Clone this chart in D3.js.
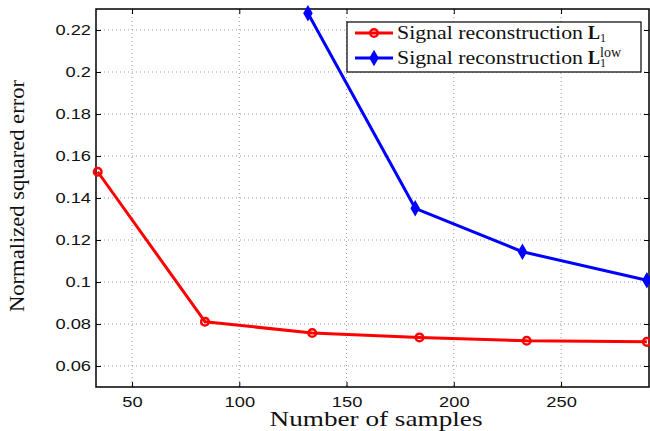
<!DOCTYPE html>
<html>
<head>
<meta charset="utf-8">
<script src="https://cdn.jsdelivr.net/npm/d3@7"></script>
<style>
  body { margin: 0; background: #fff; }
  .tick text { font-family: "Liberation Sans", Arial, sans-serif; font-size: 15.5px; fill: #111; }
  .axisLabel { font-family: "Liberation Serif", "DejaVu Serif", serif; font-size: 21px; fill: #111; }
  .legendText { font-family: "Liberation Serif", "DejaVu Serif", serif; font-size: 18px; fill: #111; }
</style>
</head>
<body>
<div id="chart"></div>
<script>
// data
const redX = [34, 84, 134, 184, 234, 290];
const redY = [0.1525, 0.0811, 0.0757, 0.0736, 0.0720, 0.0715];
const blueX = [132, 182, 232, 290];
const blueY = [0.228, 0.1351, 0.1144, 0.1008];
const xTicks = [50, 100, 150, 200, 250];
const yTicks = [0.06, 0.08, 0.1, 0.12, 0.14, 0.16, 0.18, 0.2, 0.22];

const width = 650, height = 431;
const margin = {top: 9, right: 1, bottom: 44, left: 96};
const w = width - margin.left - margin.right;
const h = height - margin.top - margin.bottom;

const svg = d3.select("#chart").append("svg")
    .attr("width", width)
    .attr("height", height);

const g = svg.append("g")
    .attr("transform", `translate(${margin.left},${margin.top})`);

const x = d3.scaleLinear().domain([33.2, 291]).range([0, w]);
const y = d3.scaleLinear().domain([0.05, 0.23]).range([h, 0]);

// grid
g.append("g").selectAll("line.vg").data(xTicks).join("line")
    .attr("x1", d => x(d)).attr("x2", d => x(d))
    .attr("y1", 0).attr("y2", h)
    .attr("stroke", "#999").attr("stroke-width", 1)
    .attr("stroke-dasharray", "1,3");
g.append("g").selectAll("line.hg").data(yTicks).join("line")
    .attr("x1", 0).attr("x2", w)
    .attr("y1", d => y(d)).attr("y2", d => y(d))
    .attr("stroke", "#999").attr("stroke-width", 1)
    .attr("stroke-dasharray", "1,3");

// axes, ticks pointing inward
const xAxis = g.append("g")
    .attr("transform", `translate(0,${h})`)
    .call(d3.axisBottom(x).tickValues(xTicks).tickSize(-5).tickPadding(9).tickFormat(d3.format("d")));
const yAxis = g.append("g")
    .call(d3.axisLeft(y).tickValues(yTicks).tickSize(-5).tickPadding(5).tickFormat(d => String(+d.toFixed(2))));
g.append("g")
    .call(d3.axisTop(x).tickValues(xTicks).tickSize(-5).tickFormat(""));
g.append("g")
    .attr("transform", `translate(${w},0)`)
    .call(d3.axisRight(y).tickValues(yTicks).tickSize(-5).tickFormat(""));
g.selectAll(".domain").remove();
g.selectAll(".tick line").attr("stroke", "#000");
// the reference digits are a bit wide, stretch them sideways
xAxis.selectAll("text").attr("transform", "scale(1.18,1)");
yAxis.selectAll("text").attr("transform", "scale(1.18,1)").attr("x", -5 / 1.18);

g.append("rect")
    .attr("width", w).attr("height", h)
    .attr("fill", "none").attr("stroke", "#000").attr("stroke-width", 1.5);

// clip lines to the plot
g.append("clipPath").attr("id", "clip")
    .append("rect").attr("x", -6).attr("y", -6).attr("width", w + 12).attr("height", h + 12);

const line = d3.line().x(d => x(d[0])).y(d => y(d[1]));
const redData = redX.map((v, i) => [v, redY[i]]);
const blueData = blueX.map((v, i) => [v, blueY[i]]);

const plot = g.append("g").attr("clip-path", "url(#clip)");

plot.append("path").datum(redData)
    .attr("d", line).attr("fill", "none")
    .attr("stroke", "#ff0000").attr("stroke-width", 3).attr("stroke-linejoin", "round");
plot.selectAll("circle.red").data(redData).join("circle")
    .attr("cx", d => x(d[0])).attr("cy", d => y(d[1]))
    .attr("r", 3.8).attr("fill", "none")
    .attr("stroke", "#ff0000").attr("stroke-width", 2.5);

plot.append("path").datum(blueData)
    .attr("d", line).attr("fill", "none")
    .attr("stroke", "#0000ff").attr("stroke-width", 3).attr("stroke-linejoin", "round");
const diamond = d3.symbol().type(d3.symbolDiamond).size(45);
plot.selectAll("path.blue").data(blueData).join("path")
    .attr("class", "blue")
    .attr("transform", d => `translate(${x(d[0])},${y(d[1])})`)
    .attr("d", diamond).attr("fill", "#0000ff")
    .attr("stroke", "#0000ff").attr("stroke-width", 2);

// legend
const lg = svg.append("g").attr("transform", "translate(347,22)");
lg.append("rect").attr("width", 294).attr("height", 50)
    .attr("fill", "#fff").attr("stroke", "#000").attr("stroke-width", 1.2);

const red = lg.append("g").attr("transform", "translate(0,11)");
red.append("line").attr("x1", 8).attr("x2", 46)
    .attr("stroke", "#ff0000").attr("stroke-width", 3);
red.append("circle").attr("cx", 27).attr("r", 3.8).attr("fill", "none")
    .attr("stroke", "#ff0000").attr("stroke-width", 2.5);
const t1 = red.append("text").attr("class", "legendText").attr("x", 50).attr("y", 6);
t1.append("tspan").attr("textLength", 186).attr("lengthAdjust", "spacingAndGlyphs").text("Signal reconstruction");
t1.append("tspan").attr("dx", 5).attr("font-weight", "bold").text("L");
t1.append("tspan").attr("font-size", "12px").attr("dy", 3).text("1");

const blue = lg.append("g").attr("transform", "translate(0,36)");
blue.append("line").attr("x1", 8).attr("x2", 46)
    .attr("stroke", "#0000ff").attr("stroke-width", 3);
blue.append("path").attr("transform", "translate(27,0)").attr("d", diamond)
    .attr("fill", "#0000ff").attr("stroke", "#0000ff").attr("stroke-width", 2);
const t2 = blue.append("text").attr("class", "legendText").attr("x", 50).attr("y", 6);
t2.append("tspan").attr("textLength", 186).attr("lengthAdjust", "spacingAndGlyphs").text("Signal reconstruction");
t2.append("tspan").attr("dx", 5).attr("font-weight", "bold").text("L");
t2.append("tspan").attr("font-size", "12px").attr("dy", 3).text("1");
t2.append("tspan").attr("font-size", "14px").attr("dx", -6).attr("dy", -10).text("low");

// axis labels
svg.append("text").attr("class", "axisLabel")
    .attr("x", 376).attr("y", 426)
    .attr("text-anchor", "middle")
    .attr("textLength", 213).attr("lengthAdjust", "spacingAndGlyphs")
    .text("Number of samples");
svg.append("text").attr("class", "axisLabel")
    .attr("transform", "translate(24,196) rotate(-90)")
    .attr("text-anchor", "middle")
    .attr("textLength", 232).attr("lengthAdjust", "spacingAndGlyphs")
    .text("Normalized squared error");
</script>
</body>
</html>
